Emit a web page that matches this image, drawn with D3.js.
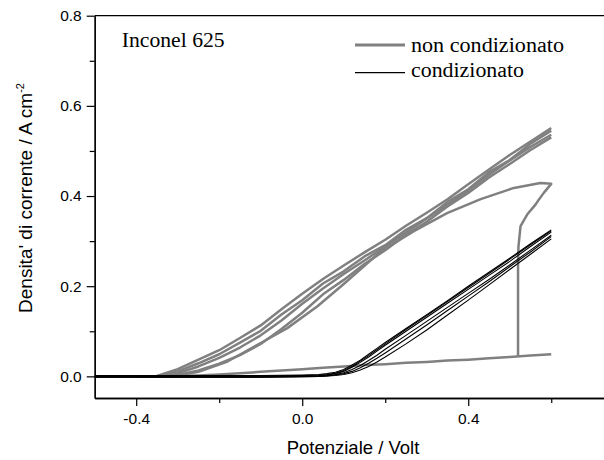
<!DOCTYPE html>
<html>
<head>
<meta charset="utf-8">
<script src="https://cdn.jsdelivr.net/npm/d3@7"></script>
<style>
  body { margin: 0; background: #fff; }
  svg { display: block; }
</style>
</head>
<body>
<svg id="chart" width="604" height="460"></svg>
<script>
// axis ticks
var xMajor = [-0.4, 0.0, 0.4];
var xMinor = [-0.2, 0.2, 0.6];
var yMajor = [0.0, 0.2, 0.4, 0.6, 0.8];
var yMinor = [0.1, 0.3, 0.5, 0.7];

// non condizionato - shared potential grid for the cycling band
var potG = [-0.4, -0.35, -0.3, -0.25, -0.2, -0.15, -0.1, -0.05, 0, 0.05, 0.1, 0.15, 0.2, 0.25, 0.3, 0.35, 0.4, 0.45, 0.5, 0.55, 0.6];
var ncCycleA = [0, 0.001, 0.016, 0.037, 0.058, 0.085, 0.113, 0.149, 0.183, 0.216, 0.246, 0.275, 0.303, 0.334, 0.363, 0.393, 0.426, 0.459, 0.491, 0.521, 0.551];
var ncCycleB = [0, 0, 0.011, 0.029, 0.049, 0.075, 0.101, 0.137, 0.169, 0.206, 0.233, 0.266, 0.291, 0.325, 0.351, 0.387, 0.415, 0.453, 0.480, 0.516, 0.545];
var ncCycleC = [0, 0, 0.007, 0.022, 0.041, 0.064, 0.091, 0.124, 0.161, 0.195, 0.227, 0.257, 0.288, 0.319, 0.350, 0.381, 0.413, 0.447, 0.479, 0.509, 0.536];
var ncCycleD = [0, 0, 0.003, 0.013, 0.028, 0.047, 0.072, 0.105, 0.141, 0.182, 0.214, 0.249, 0.280, 0.314, 0.343, 0.377, 0.407, 0.441, 0.471, 0.502, 0.530];
var ncFirstFwd = [0, 0, 0.001, 0.002, 0.004, 0.007, 0.010, 0.013, 0.016, 0.019, 0.022, 0.025, 0.027, 0.030, 0.032, 0.035, 0.037, 0.040, 0.043, 0.046, 0.049];

// non condizionato - pitting jump and first reverse scan
var pitV = [0.520, 0.520, 0.520, 0.521, 0.526, 0.542, 0.562, 0.570, 0.582, 0.600, 0.574, 0.510, 0.430, 0.349, 0.269, 0.189, 0.100, 0.036, -0.036, -0.100, -0.180, -0.250, -0.300, -0.350];
var pitI = [0.043, 0.150, 0.250, 0.288, 0.333, 0.359, 0.381, 0.392, 0.407, 0.427, 0.429, 0.418, 0.393, 0.362, 0.322, 0.277, 0.205, 0.155, 0.107, 0.074, 0.033, 0.010, 0.002, 0];

// condizionato
var potB = [-0.5, -0.4, -0.3, -0.2, -0.1, 0, 0.04, 0.06, 0.08, 0.1, 0.12, 0.14, 0.16, 0.18, 0.2, 0.25, 0.3, 0.35, 0.4, 0.45, 0.5, 0.55, 0.6];
var cCycle1 = [0.002, 0.002, 0.002, 0.002, 0.002, 0.003, 0.004, 0.006, 0.009, 0.015, 0.025, 0.036, 0.049, 0.062, 0.075, 0.106, 0.137, 0.168, 0.200, 0.231, 0.262, 0.294, 0.325];
var cCycle2 = [0.001, 0.001, 0.001, 0.001, 0.001, 0.002, 0.003, 0.004, 0.007, 0.013, 0.022, 0.034, 0.046, 0.059, 0.072, 0.104, 0.135, 0.166, 0.197, 0.228, 0.260, 0.292, 0.323];
var cCycle3 = [0, 0, 0, 0, 0, 0.001, 0.002, 0.003, 0.006, 0.011, 0.020, 0.031, 0.043, 0.056, 0.069, 0.100, 0.131, 0.162, 0.193, 0.224, 0.255, 0.288, 0.320];
var cCycle4 = [-0.001, -0.001, -0.001, -0.001, -0.001, 0, 0.001, 0.002, 0.004, 0.008, 0.015, 0.024, 0.035, 0.047, 0.060, 0.091, 0.122, 0.153, 0.184, 0.215, 0.247, 0.280, 0.313];
var cCycle5 = [-0.002, -0.002, -0.002, -0.002, -0.002, -0.001, 0, 0.001, 0.003, 0.006, 0.011, 0.019, 0.029, 0.040, 0.052, 0.083, 0.114, 0.146, 0.178, 0.210, 0.243, 0.276, 0.310];
var cCycle6 = [-0.002, -0.002, -0.002, -0.002, -0.002, -0.001, 0, 0.001, 0.002, 0.004, 0.008, 0.014, 0.022, 0.032, 0.043, 0.072, 0.103, 0.136, 0.169, 0.203, 0.237, 0.271, 0.305];

var svg = d3.select("#chart");

var x = d3.scaleLinear().domain([-0.5, 0.75]).range([94.7, 613.5]);
var y = d3.scaleLinear().domain([-0.048, 0.8]).range([398, 15.7]);

var line = d3.line()
  .x(d => x(d[0]))
  .y(d => y(d[1]));

function pairs(xs, ys) {
  return xs.map((v, i) => [v, ys[i]]);
}

var plot = svg.append("g");

// gray curves first, black ones on top
var grayRuns = [
  pairs(potG, ncFirstFwd),
  pairs(pitV, pitI),
  pairs(potG, ncCycleD),
  pairs(potG, ncCycleC),
  pairs(potG, ncCycleB),
  pairs(potG, ncCycleA)
];
grayRuns.forEach((run) => {
  plot.append("path")
    .attr("d", line(run))
    .attr("fill", "none")
    .attr("stroke", "#808080")
    .attr("stroke-width", 2.5)
    .attr("stroke-linejoin", "round");
});

var blackRuns = [cCycle6, cCycle5, cCycle4, cCycle3, cCycle2, cCycle1];
blackRuns.forEach((vals) => {
  plot.append("path")
    .attr("d", line(pairs(potB, vals)))
    .attr("fill", "none")
    .attr("stroke", "#000")
    .attr("stroke-width", 1.1);
});

// axes
var tickFont = "'Liberation Sans', Arial, sans-serif";
var fmt = d => d.toFixed(1);

svg.append("g")
  .attr("transform", "translate(94.7,0)")
  .call(d3.axisLeft(y).tickValues(yMajor).tickFormat(fmt).tickSize(8).tickSizeOuter(0).tickPadding(5));
svg.append("g")
  .attr("transform", "translate(94.7,0)")
  .call(d3.axisLeft(y).tickValues(yMinor).tickFormat("").tickSize(5).tickSizeOuter(0));

svg.append("g")
  .attr("transform", "translate(0,398)")
  .call(d3.axisBottom(x).tickValues(xMajor).tickFormat(fmt).tickSize(8).tickSizeOuter(0).tickPadding(7));
svg.append("g")
  .attr("transform", "translate(0,398)")
  .call(d3.axisBottom(x).tickValues(xMinor).tickFormat("").tickSize(5).tickSizeOuter(0));

svg.selectAll(".domain").attr("stroke", "#000").attr("stroke-width", 1.3);
svg.selectAll(".tick line").attr("stroke", "#000").attr("stroke-width", 1.2);
svg.selectAll(".tick text")
  .attr("font-family", tickFont)
  .attr("font-size", 15.5)
  .attr("fill", "#000");

// top frame line
svg.append("line")
  .attr("x1", x(-0.5)).attr("x2", x(0.75))
  .attr("y1", y(0.8)).attr("y2", y(0.8))
  .attr("stroke", "#000").attr("stroke-width", 1.3);

// axis titles
svg.append("text")
  .attr("x", 353)
  .attr("y", 454)
  .attr("text-anchor", "middle")
  .attr("font-family", tickFont)
  .attr("font-size", 18.5)
  .text("Potenziale / Volt");

var yTitle = svg.append("text")
  .attr("transform", "translate(32,198) rotate(-90)")
  .attr("text-anchor", "middle")
  .attr("font-family", tickFont)
  .attr("font-size", 19);
yTitle.append("tspan").text("Densita' di corrente / A cm");
yTitle.append("tspan").attr("dy", -8).attr("font-size", 11).text("-2");

// annotations and legend
var serif = "'Liberation Serif', 'Times New Roman', serif";

svg.append("text")
  .attr("x", 121.7)
  .attr("y", 47)
  .attr("font-family", serif)
  .attr("font-size", 20)
  .attr("textLength", 103)
  .attr("lengthAdjust", "spacingAndGlyphs")
  .text("Inconel 625");

var legend = [
  {label: "non condizionato", color: "#808080", width: 2.8, ly: 45, ty: 52, len: 153},
  {label: "condizionato", color: "#000", width: 1.2, ly: 72.7, ty: 77, len: 113}
];
legend.forEach((d) => {
  svg.append("line")
    .attr("x1", 355).attr("x2", 405)
    .attr("y1", d.ly).attr("y2", d.ly)
    .attr("stroke", d.color)
    .attr("stroke-width", d.width);
  svg.append("text")
    .attr("x", 411)
    .attr("y", d.ty)
    .attr("font-family", serif)
    .attr("font-size", 20)
    .attr("textLength", d.len)
    .attr("lengthAdjust", "spacingAndGlyphs")
    .text(d.label);
});
</script>
</body>
</html>
